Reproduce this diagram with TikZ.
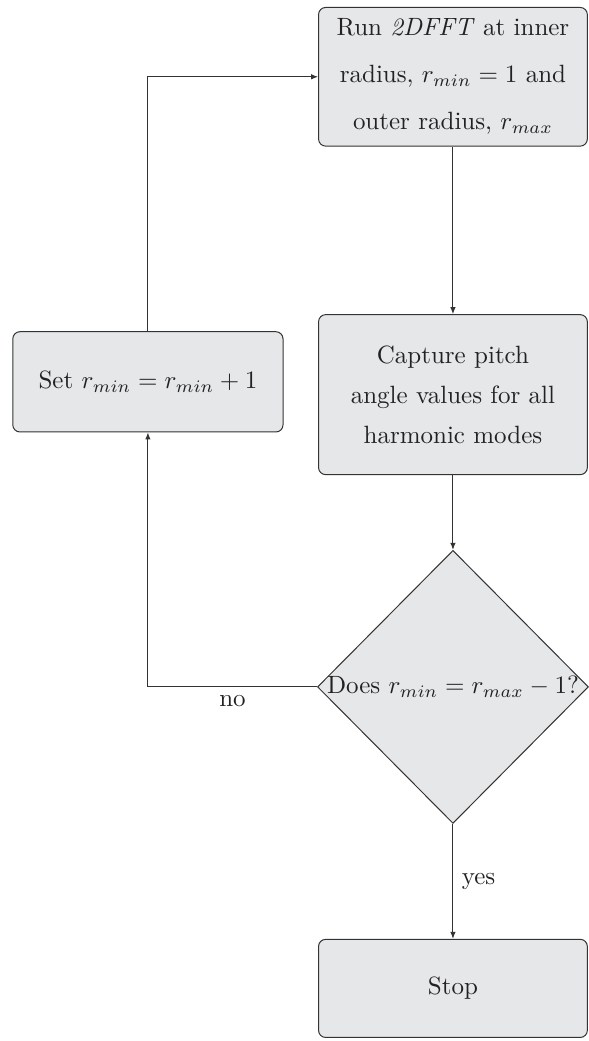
\documentclass[tikz,border=0pt]{standalone}
\usepackage{tikz}
\usetikzlibrary{shapes.geometric,arrows.meta}
\definecolor{boxfill}{HTML}{E6E7E9}
\definecolor{dkline}{HTML}{333333}
\definecolor{dktext}{HTML}{222222}

\begin{document}
\begin{tikzpicture}[
  process/.style={rectangle, rounded corners=1mm, draw=dkline, fill=boxfill, text=dktext, minimum width=3.78cm, align=center, inner sep=0pt},
  decision/.style={diamond, draw=dkline, fill=boxfill, text=dktext, minimum width=3.81cm, minimum height=3.84cm, inner sep=0pt},
  flow/.style={draw=dkline, -{Latex[length=2.8pt,width=2.2pt]}},
  lbl/.style={text=dktext}
]
\useasboundingbox (0,0) rectangle (8.28,-14.64);

% Steps
\node[process, minimum height=1.95cm] (run) at (6.37,-1.08)
  {Run \textit{2DFFT} at inner\\[6.8pt] radius, $r_{min} = 1$ and\\[6.8pt] outer radius, $r_{max}$};
\node[process, minimum height=2.25cm] (capture) at (6.37,-5.55)
  {Capture pitch\\[4pt] angle values for all\\[4pt] harmonic modes};
\node[process, minimum height=1.41cm, minimum width=3.8cm] (setr) at (2.08,-5.37)
  {Set $r_{min} = r_{min} + 1$};
% Decision
\node[decision] (check) at (6.37,-9.66)
  {\makebox[0pt]{Does $r_{min} = r_{max} - 1$?}};
\node[process, minimum height=1.38cm] (stop) at (6.37,-13.9) {Stop};

% Connectors
\draw[flow] (run) -- (capture);
\draw[flow] (capture) -- (check);
\draw[flow] (check) -- node[lbl, right] {yes} (stop);
\draw[flow] (check.west) -| node[lbl, pos=0.25, below] {no} (setr.south);
\draw[flow] (setr.north) |- (run.west);

\end{tikzpicture}
\end{document}
